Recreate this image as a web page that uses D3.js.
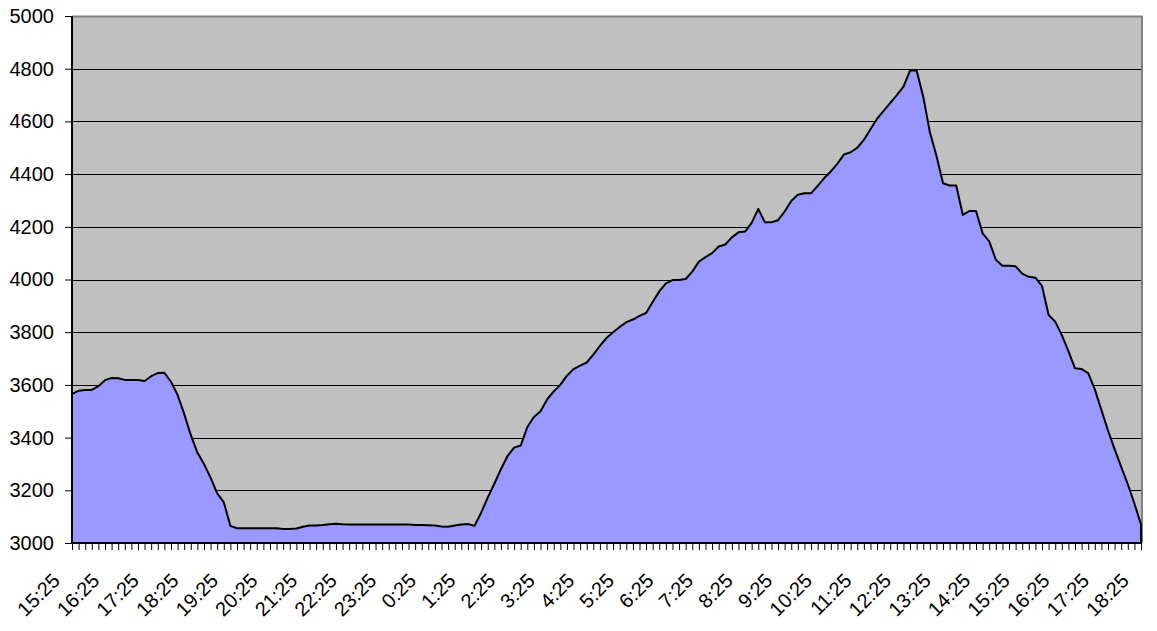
<!DOCTYPE html>
<html>
<head>
<meta charset="utf-8">
<script src="https://cdn.jsdelivr.net/npm/d3@7"></script>
<style>
  html, body { margin: 0; padding: 0; background: #ffffff; }
  svg { display: block; }
  text { font-family: "Liberation Sans", Arial, sans-serif; }
</style>
</head>
<body>
<svg id="chart" width="1157" height="631"></svg>
<script>
const categories = [
  "15:25","15:35","15:45","15:55","16:05","16:15",
  "16:25","16:35","16:45","16:55","17:05","17:15",
  "17:25","17:35","17:45","17:55","18:05","18:15",
  "18:25","18:35","18:45","18:55","19:05","19:15",
  "19:25","19:35","19:45","19:55","20:05","20:15",
  "20:25","20:35","20:45","20:55","21:05","21:15",
  "21:25","21:35","21:45","21:55","22:05","22:15",
  "22:25","22:35","22:45","22:55","23:05","23:15",
  "23:25","23:35","23:45","23:55","0:05","0:15",
  "0:25","0:35","0:45","0:55","1:05","1:15",
  "1:25","1:35","1:45","1:55","2:05","2:15",
  "2:25","2:35","2:45","2:55","3:05","3:15",
  "3:25","3:35","3:45","3:55","4:05","4:15",
  "4:25","4:35","4:45","4:55","5:05","5:15",
  "5:25","5:35","5:45","5:55","6:05","6:15",
  "6:25","6:35","6:45","6:55","7:05","7:15",
  "7:25","7:35","7:45","7:55","8:05","8:15",
  "8:25","8:35","8:45","8:55","9:05","9:15",
  "9:25","9:35","9:45","9:55","10:05","10:15",
  "10:25","10:35","10:45","10:55","11:05","11:15",
  "11:25","11:35","11:45","11:55","12:05","12:15",
  "12:25","12:35","12:45","12:55","13:05","13:15",
  "13:25","13:35","13:45","13:55","14:05","14:15",
  "14:25","14:35","14:45","14:55","15:05","15:15",
  "15:25","15:35","15:45","15:55","16:05","16:15",
  "16:25","16:35","16:45","16:55","17:05","17:15",
  "17:25","17:35","17:45","17:55","18:05","18:15",
  "18:25"
];

const values = [
  3565,3578,3581,3581,3595,3618,
  3626,3625,3619,3619,3619,3615,
  3633,3645,3646,3612,3562,3490,
  3410,3343,3300,3248,3188,3155,
  3065,3056,3056,3056,3056,3056,
  3056,3056,3053,3053,3055,3062,
  3066,3066,3068,3071,3073,3071,
  3070,3070,3070,3070,3070,3070,
  3070,3070,3070,3070,3068,3068,
  3067,3066,3063,3062,3066,3070,
  3072,3065,3115,3172,3225,3280,
  3330,3362,3370,3440,3478,3500,
  3545,3575,3600,3635,3660,3673,
  3685,3715,3748,3778,3800,3820,
  3838,3848,3862,3873,3915,3955,
  3985,3998,3998,4002,4030,4068,
  4085,4100,4125,4133,4160,4179,
  4182,4215,4268,4217,4217,4225,
  4258,4298,4322,4327,4327,4355,
  4385,4410,4440,4475,4483,4500,
  4530,4570,4610,4640,4670,4700,
  4732,4793,4793,4694,4560,4470,
  4365,4357,4357,4245,4260,4260,
  4175,4145,4075,4052,4052,4050,
  4022,4010,4007,3975,3865,3840,
  3789,3728,3663,3660,3645,3583,
  3505,3427,3356,3289,3223,3150,
  3070
];

const tickLabels = [
  "15:25","16:25","17:25","18:25","19:25","20:25","21:25","22:25","23:25",
  "0:25","1:25","2:25","3:25","4:25","5:25","6:25","7:25","8:25","9:25",
  "10:25","11:25","12:25","13:25","14:25","15:25","16:25","17:25","18:25"
];
const yTicks = [3000, 3200, 3400, 3600, 3800, 4000, 4200, 4400, 4600, 4800, 5000];

(function () {
const svg = d3.select("#chart");
const pLeft = 72, pRight = 1141, pTop = 16, pBottom = 543;

const idx = d3.range(categories.length);
const x = d3.scalePoint().domain(idx).range([pLeft, pRight]);
const y = d3.scaleLinear().domain([3000, 5000]).range([pBottom, pTop]);

// plot background
svg.append("rect")
  .attr("x", pLeft).attr("y", pTop)
  .attr("width", pRight - pLeft).attr("height", pBottom - pTop)
  .attr("fill", "#c0c0c0");

// gridlines
svg.append("g")
  .selectAll("line")
  .data(yTicks.filter(v => v > 3000 && v < 5000))
  .join("line")
  .attr("x1", pLeft).attr("x2", pRight)
  .attr("y1", d => Math.round(y(d)) + 0.5).attr("y2", d => Math.round(y(d)) + 0.5)
  .attr("stroke", "#000").attr("stroke-width", 1);

// plot border (top/right gray)
svg.append("path")
  .attr("d", `M${pLeft},${pTop + 0.5}H${pRight + 1}V${pBottom}`)
  .attr("fill", "none").attr("stroke", "#808080").attr("stroke-width", 2);

// area
const area = d3.area()
  .x(i => x(i))
  .y0(y(3000))
  .y1(i => y(values[i]));
svg.append("path")
  .datum(idx)
  .attr("d", area)
  .attr("fill", "#9999ff")
  .attr("stroke", "#000")
  .attr("stroke-width", 2)
  .attr("stroke-linejoin", "round");

// y axis
const yAxis = d3.axisLeft(y).tickValues(yTicks).tickSize(7).tickPadding(11)
  .tickFormat(d3.format("d"));
const gy = svg.append("g").attr("transform", `translate(${pLeft},0)`).call(yAxis);
gy.select(".domain").attr("stroke", "#000").attr("stroke-width", 2)
  .attr("d", `M0,${pTop}V${pBottom}`);
gy.selectAll(".tick line").attr("stroke", "#000");
gy.selectAll(".tick text")
  .attr("font-family", "'Liberation Sans', Arial, sans-serif")
  .attr("font-size", 20).attr("fill", "#000");

// x axis
const labelSet = new Set(tickLabels);
const xAxis = d3.axisBottom(x).tickSize(7).tickFormat("");
const gx = svg.append("g").attr("transform", `translate(0,${pBottom})`).call(xAxis);
gx.select(".domain").attr("stroke", "#000").attr("stroke-width", 2)
  .attr("d", `M${pLeft},0H${pRight}`);
gx.selectAll(".tick line").attr("stroke", "#000");

// hourly labels
const labelIdx = idx.filter(i => i % 6 === 0 && labelSet.has(categories[i]));
svg.append("g")
  .selectAll("text")
  .data(labelIdx)
  .join("text")
  .attr("transform", i => `translate(${x(i) - 11},${582}) rotate(-45)`)
  .attr("text-anchor", "end")
  .attr("font-size", 20)
  .attr("fill", "#000")
  .text(i => categories[i]);
})();
</script>
</body>
</html>
